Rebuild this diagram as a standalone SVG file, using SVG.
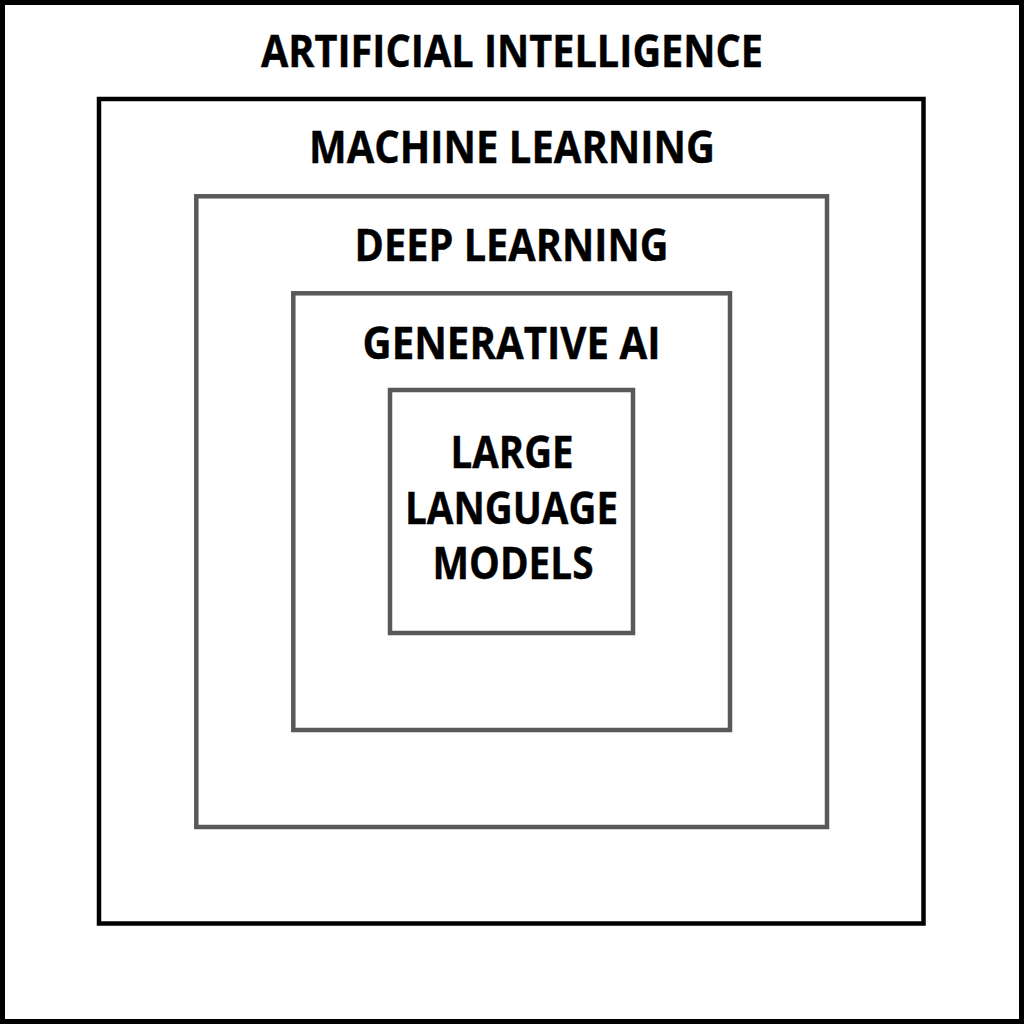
<svg xmlns="http://www.w3.org/2000/svg" width="1024" height="1024" viewBox="0 0 1024 1024">
  <style>
    .box { fill: none; }
    .dark { stroke: #000000; }
    .gray { stroke: #595959; }
    .lbl { font-family: "Open Sans", "Liberation Sans", sans-serif; font-weight: bold; font-size: 44px; fill: #000000; stroke: #000000; stroke-width: 0.4px; text-anchor: middle; }
  </style>
  <rect x="0" y="0" width="1024" height="1024" fill="#ffffff"/>
  <g id="artificial-intelligence">
    <rect class="box dark" x="2.5" y="2.5" width="1019" height="1019" stroke-width="5"/>
    <text class="lbl" x="512" y="67" textLength="502" lengthAdjust="spacingAndGlyphs">ARTIFICIAL INTELLIGENCE</text>
  </g>
  <g id="machine-learning">
    <rect class="box dark" x="99" y="99" width="824.5" height="824.5" stroke-width="4.5"/>
    <text class="lbl" x="512" y="163" textLength="406" lengthAdjust="spacingAndGlyphs">MACHINE LEARNING</text>
  </g>
  <g id="deep-learning">
    <rect class="box gray" x="196.3" y="196.3" width="630.7" height="630.7" stroke-width="4.5"/>
    <text class="lbl" x="511.5" y="261" textLength="314" lengthAdjust="spacingAndGlyphs">DEEP LEARNING</text>
  </g>
  <g id="generative-ai">
    <rect class="box gray" x="293.3" y="293.3" width="436.7" height="436.7" stroke-width="4.5"/>
    <text class="lbl" x="511.5" y="359" textLength="298" lengthAdjust="spacingAndGlyphs">GENERATIVE AI</text>
  </g>
  <g id="large-language-models">
    <rect class="box gray" x="390" y="390" width="243" height="243" stroke-width="4.5"/>
    <text class="lbl" x="512" y="468" textLength="123" lengthAdjust="spacingAndGlyphs">LARGE</text>
    <text class="lbl" x="511.5" y="524" textLength="213" lengthAdjust="spacingAndGlyphs">LANGUAGE</text>
    <text class="lbl" x="513" y="579" textLength="161" lengthAdjust="spacingAndGlyphs">MODELS</text>
  </g>
  <g id="connectors"></g>
</svg>
